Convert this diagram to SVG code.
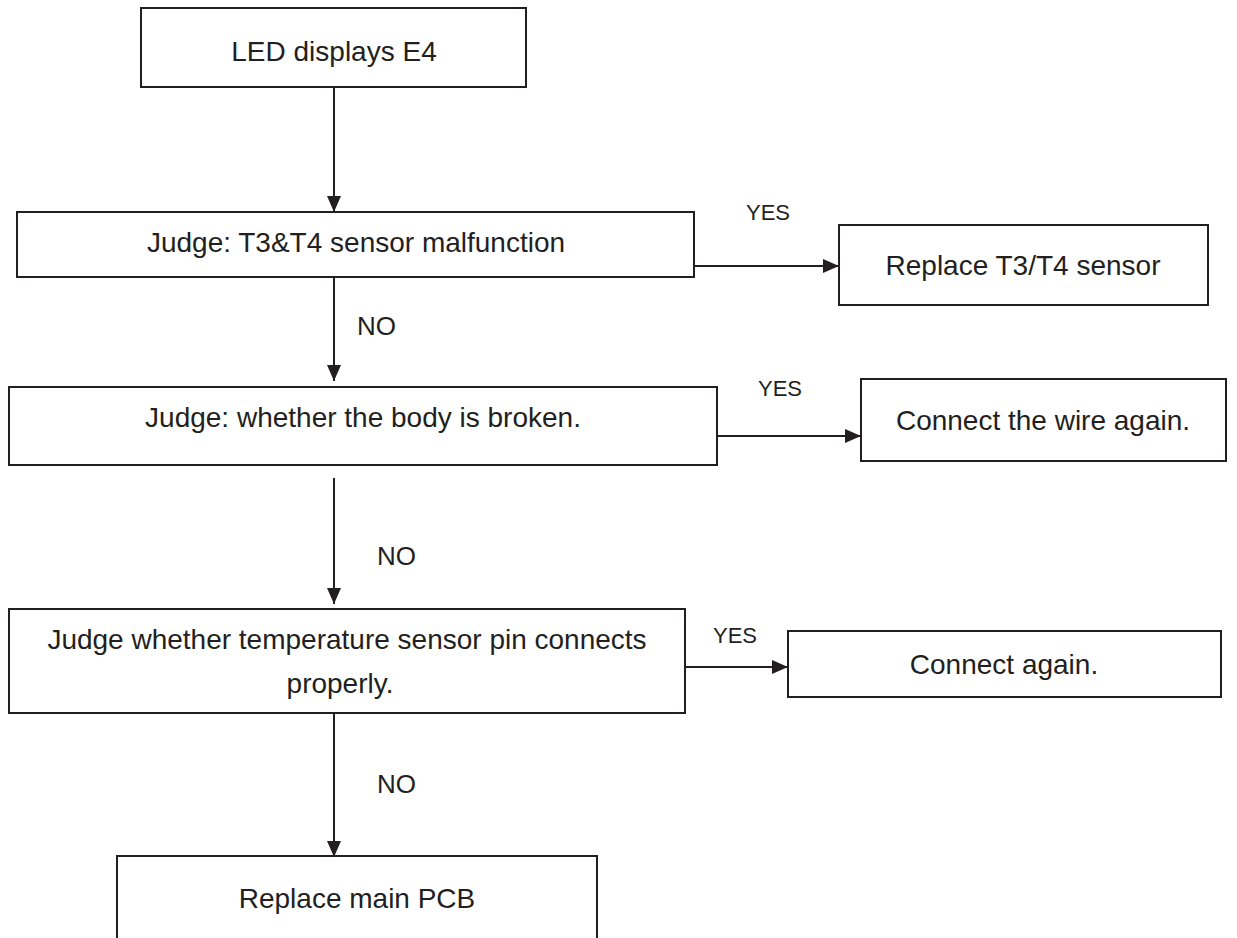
<svg xmlns="http://www.w3.org/2000/svg" width="1237" height="938" viewBox="0 0 1237 938">
<style>
.box{fill:#fff;stroke:#231f20;stroke-width:2}
.t{font-family:"Liberation Sans",Arial,sans-serif;font-size:28px;fill:#231f20;text-anchor:middle}
.lbl{font-family:"Liberation Sans",Arial,sans-serif;fill:#231f20}
.c{fill:none;stroke:#231f20;stroke-width:2}
</style>
<defs>
<marker id="ah" markerUnits="userSpaceOnUse" markerWidth="16" markerHeight="16" viewBox="0 0 16 16" refX="16" refY="8" orient="auto">
<path d="M0,1 L16,8 L0,15 Z" fill="#231f20"/>
</marker>
</defs>
<rect width="1237" height="938" fill="#fff"/>
<g id="connectors">
<line class="c" x1="334" y1="88" x2="334" y2="212" marker-end="url(#ah)"/>
<line class="c" x1="334" y1="277" x2="334" y2="381" marker-end="url(#ah)"/>
<line class="c" x1="334" y1="478" x2="334" y2="604" marker-end="url(#ah)"/>
<line class="c" x1="334" y1="713" x2="334" y2="857" marker-end="url(#ah)"/>
<line class="c" x1="694" y1="266" x2="839" y2="266" marker-end="url(#ah)"/>
<line class="c" x1="717" y1="436" x2="861" y2="436" marker-end="url(#ah)"/>
<line class="c" x1="685" y1="667" x2="788" y2="667" marker-end="url(#ah)"/>
<text class="lbl" x="357" y="335" font-size="26">NO</text>
<text class="lbl" x="377" y="565" font-size="26">NO</text>
<text class="lbl" x="377" y="793" font-size="26">NO</text>
<text class="lbl" x="746" y="220" font-size="22">YES</text>
<text class="lbl" x="758" y="396" font-size="22">YES</text>
<text class="lbl" x="713" y="643" font-size="22">YES</text>
</g>
<g id="n1">
<rect class="box" x="141" y="8" width="385" height="79"/>
<text class="t" x="334" y="61" font-size="27">LED displays E4</text>
</g>
<g id="n2">
<rect class="box" x="17" y="212" width="677" height="65"/>
<text class="t" x="356" y="252">Judge: T3&amp;T4 sensor malfunction</text>
</g>
<g id="n3">
<rect class="box" x="839" y="225" width="369" height="80"/>
<text class="t" x="1023" y="275">Replace T3/T4 sensor</text>
</g>
<g id="n4">
<rect class="box" x="9" y="387" width="708" height="78"/>
<text class="t" x="363" y="427">Judge: whether the body is broken.</text>
</g>
<g id="n5">
<rect class="box" x="861" y="379" width="365" height="82"/>
<text class="t" x="1043" y="430">Connect the wire again.</text>
</g>
<g id="n6">
<rect class="box" x="9" y="609" width="676" height="104"/>
<text class="t" x="347" y="649">Judge whether temperature sensor pin connects</text>
<text class="t" x="340" y="693">properly.</text>
</g>
<g id="n7">
<rect class="box" x="788" y="631" width="433" height="66"/>
<text class="t" x="1004" y="674">Connect again.</text>
</g>
<g id="n8">
<rect class="box" x="117" y="856" width="480" height="100"/>
<text class="t" x="357" y="908">Replace main PCB</text>
</g>
</svg>
